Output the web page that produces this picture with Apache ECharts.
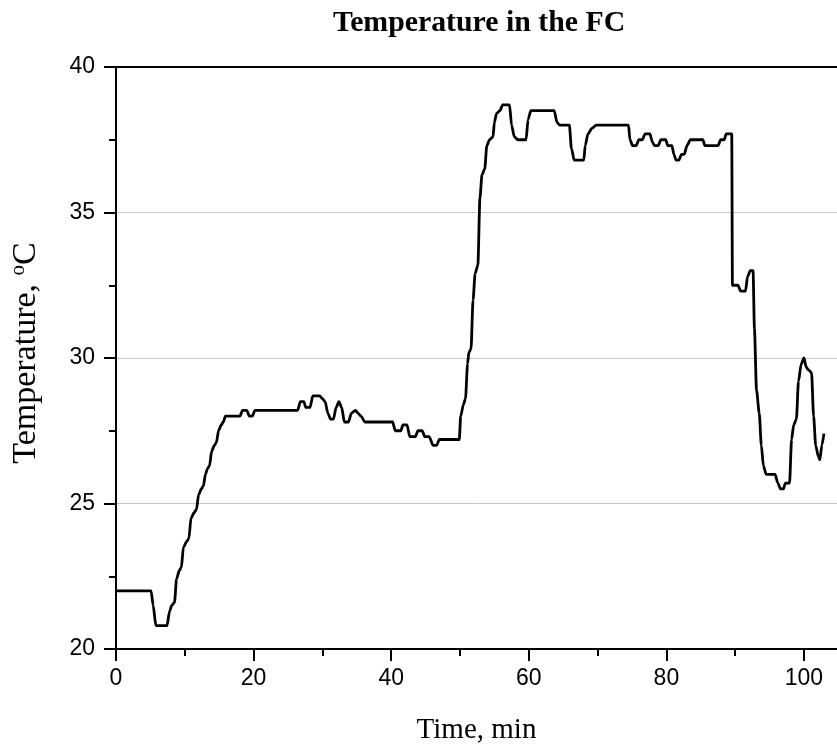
<!DOCTYPE html>
<html>
<head>
<meta charset="utf-8">
<script src="https://cdn.jsdelivr.net/npm/echarts@6/dist/echarts.min.js"></script>
<style>
  html, body { margin: 0; padding: 0; background: #fff; }
  #chart { width: 837px; height: 749px; }
</style>
</head>
<body>
<div id="chart"></div>
<script>
// Fuel-cell temperature log: time (min) and temperature (°C)
const timeMin = [
  0, 5.1, 5.4, 5.8, 7.4, 7.8, 8.1, 8.5, 8.8, 9.2, 9.5, 9.8, 10.3, 10.6, 10.9, 11.4,
  11.7, 12.0, 12.4, 12.7, 13.0, 13.3, 13.6, 13.9, 14.3, 14.6, 14.9, 15.3, 15.6, 15.9,
  18.0, 18.4, 19.0, 19.4, 19.8, 20.2, 26.4, 26.8, 27.3, 27.6, 28.2, 28.6, 29.6, 30.0,
  30.4, 30.8, 31.2, 31.6, 32.0, 32.4, 32.8, 33.2, 33.8, 34.2, 34.8, 35.2, 35.6, 36.2,
  40.2, 40.6, 41.4, 41.7, 42.3, 42.7, 43.5, 43.9, 44.5, 44.9, 45.5, 46.1, 46.6, 47.0,
  49.9, 50.1, 50.5, 50.8, 51.1, 51.3, 51.6, 51.9, 52.2, 52.6, 52.9, 53.2, 53.6, 53.9,
  54.3, 54.8, 55.0, 55.3, 55.8, 56.2, 57.2, 57.5, 57.9, 58.4, 59.6, 59.9, 60.3, 63.7,
  64.1, 64.5, 65.9, 66.2, 66.6, 68.0, 68.2, 68.6, 69.2, 69.8, 74.5, 74.7, 75.1, 75.6,
  76.0, 76.5, 76.9, 77.6, 78.0, 78.3, 78.8, 79.2, 79.9, 80.2, 80.8, 81.1, 81.4, 81.8,
  82.2, 82.6, 83.0, 83.5, 85.3, 85.6, 87.5, 87.9, 88.4, 88.7, 89.5, 89.6, 90.4, 90.8,
  91.5, 91.8, 92.2, 92.6, 92.8, 93.1, 93.5, 93.8, 94.1, 94.5, 95.8, 96.2, 96.6, 97.0,
  97.3, 97.9, 98.2, 98.5, 98.9, 99.2, 99.6, 100.0, 100.3, 100.6, 101.1, 101.4, 101.7,
  102.1, 102.3, 102.6, 102.9
];
const tempC = [
  22.0, 22.0, 21.5, 20.8, 20.8, 21.3, 21.5, 21.6, 22.4, 22.7, 22.8, 23.5, 23.7, 23.8, 24.5, 24.7,
  24.8, 25.3, 25.5, 25.6, 26.0, 26.2, 26.3, 26.8, 27.0, 27.1, 27.5, 27.7, 27.8, 28.0,
  28.0, 28.2, 28.2, 28.0, 28.0, 28.2, 28.2, 28.5, 28.5, 28.3, 28.3, 28.7, 28.7, 28.6,
  28.5, 28.1, 27.9, 27.9, 28.3, 28.5, 28.3, 27.8, 27.8, 28.1, 28.2, 28.1, 28.0, 27.8,
  27.8, 27.5, 27.5, 27.7, 27.7, 27.3, 27.3, 27.5, 27.5, 27.3, 27.3, 27.0, 27.0, 27.2,
  27.2, 28.0, 28.4, 28.6, 29.8, 30.2, 30.3, 32.0, 32.9, 33.2, 35.5, 36.3, 36.5, 37.3,
  37.5, 37.6, 38.1, 38.4, 38.5, 38.7, 38.7, 38.0, 37.6, 37.5, 37.5, 38.2, 38.5, 38.5,
  38.1, 38.0, 38.0, 37.2, 36.8, 36.8, 37.3, 37.7, 37.9, 38.0, 38.0, 37.5, 37.3, 37.3,
  37.5, 37.5, 37.7, 37.7, 37.4, 37.3, 37.3, 37.5, 37.5, 37.3, 37.3, 37.0, 36.8, 36.8,
  37.0, 37.0, 37.3, 37.5, 37.5, 37.3, 37.3, 37.5, 37.5, 37.7, 37.7, 32.5, 32.5, 32.3,
  32.3, 32.8, 33.0, 33.0, 31.0, 28.9, 28.1, 27.0, 26.3, 26.0, 26.0, 25.7, 25.5, 25.5,
  25.7, 25.7, 27.2, 27.7, 27.9, 29.2, 29.8, 30.0, 29.7, 29.6, 29.5, 28.0, 27.0,
  26.6, 26.5, 27.0, 27.4
];

// Axis tick marks and labels
const xMajorTicks = [0, 20, 40, 60, 80, 100];
const xMinorTicks = [10, 30, 50, 70, 90];
const yTicks = { min: 20, max: 40, step: 5 };
const xRange = { min: 0, max: 104.8 };

const titleText = 'Temperature in the FC';
const xTitle = 'Time, min';

const chart = echarts.init(document.getElementById('chart'), null, { renderer: 'canvas' });

const sans = '"Liberation Sans", Arial, sans-serif';
const serif = '"Liberation Serif", "Times New Roman", serif';
const black = '#000';

const option = {
  animation: false,
  backgroundColor: '#fff',
  title: {
    text: titleText,
    left: 328,
    top: 3,
    textStyle: { fontFamily: serif, fontWeight: 'bold', fontSize: 29.8, color: black }
  },
  grid: { left: 116, right: 0, top: 67, bottom: 100, containLabel: false, outerBoundsMode: 'none' },
  xAxis: [
    {
      type: 'value',
      min: xRange.min,
      max: xRange.max,
      position: 'bottom',
      name: xTitle,
      nameLocation: 'middle',
      nameGap: 67,
      nameTextStyle: { fontFamily: serif, fontSize: 29, color: black },
      axisLine: { show: true, onZero: false, lineStyle: { color: black, width: 2 } },
      axisTick: { show: true, inside: false, length: 12, customValues: xMajorTicks, lineStyle: { color: black, width: 2 } },
      axisLabel: { show: true, margin: 18, customValues: xMajorTicks, fontFamily: sans, fontSize: 23, color: black },
      splitLine: { show: false }
    },
    {
      type: 'value',
      min: xRange.min,
      max: xRange.max,
      position: 'bottom',
      axisLine: { show: false },
      axisTick: { show: true, inside: false, length: 7, customValues: xMinorTicks, lineStyle: { color: black, width: 2 } },
      axisLabel: { show: false },
      splitLine: { show: false }
    },
    {
      type: 'value',
      min: xRange.min,
      max: xRange.max,
      position: 'top',
      axisLine: { show: true, onZero: false, lineStyle: { color: black, width: 2 } },
      axisTick: { show: false },
      axisLabel: { show: false },
      splitLine: { show: false }
    }
  ],
  yAxis: [
    {
      type: 'value',
      min: yTicks.min,
      max: yTicks.max,
      interval: yTicks.step,
      position: 'left',
      name: '{t|Temperature, }{s|o}{t|C}',
      nameLocation: 'middle',
      nameGap: 72,
      nameRotate: 90,
      nameTextStyle: {
        color: black,
        padding: [0, 0, 0, 10],
        rich: {
          t: { fontFamily: serif, fontSize: 34, color: black, lineHeight: 36 },
          s: { fontFamily: serif, fontSize: 21, color: black, verticalAlign: 'top', lineHeight: 36 }
        }
      },
      axisLine: { show: true, onZero: false, lineStyle: { color: black, width: 2 } },
      axisTick: { show: true, inside: false, length: 12, lineStyle: { color: black, width: 2 } },
      minorTick: { show: true, splitNumber: 2, length: 7, lineStyle: { color: black, width: 2 } },
      axisLabel: { show: true, margin: 21, fontFamily: sans, fontSize: 23, color: black },
      splitLine: { show: true, lineStyle: { color: '#c8c8c8', width: 1 } }
    }
  ],
  series: [
    {
      type: 'line',
      xAxisIndex: 0,
      yAxisIndex: 0,
      data: timeMin.map((t, i) => [t, tempC[i]]),
      showSymbol: false,
      smooth: 0.25,
      smoothMonotone: 'x',
      lineStyle: { color: black, width: 2.8 },
      clip: true
    }
  ]
};

chart.setOption(option);
</script>
</body>
</html>
